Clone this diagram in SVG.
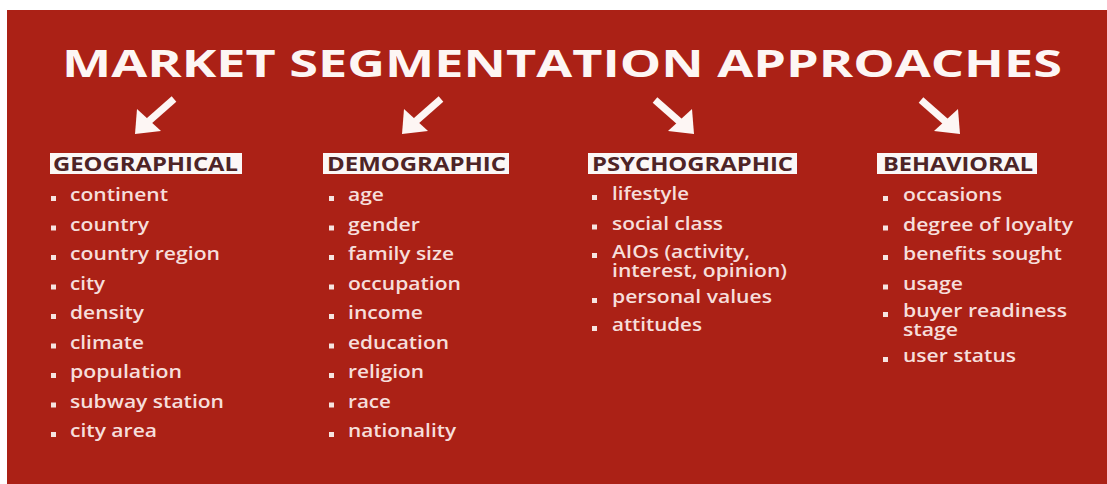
<svg xmlns="http://www.w3.org/2000/svg" width="1107" height="484" viewBox="0 0 1107 484">
  <style>
    .title { font-family: "Open Sans", "Liberation Sans", sans-serif; font-weight: 700; font-size: 38px; fill: #fdf6f4; }
    .head-box { fill: #fbf7f6; }
    .head { font-family: "Open Sans", "Liberation Sans", sans-serif; font-weight: 700; font-size: 20px; fill: #4e2426; }
    .item { font-family: "Open Sans", "Liberation Sans", sans-serif; font-weight: 600; font-size: 18px; fill: #f6dedb; }
    .bullet { fill: #f6e4e1; }
    .arrow-shaft { stroke: #fdf6f4; stroke-width: 7; stroke-linecap: butt; fill: none; }
    .arrow-head { fill: #fdf6f4; }
  </style>

  <!-- background panel -->
  <rect x="0" y="0" width="1107" height="484" fill="#ffffff"/>
  <rect x="7" y="10" width="1100" height="474" fill="#ab2116"/>

  <!-- title -->
  <g id="title">
    <text class="title" x="62" y="77" textLength="1000" lengthAdjust="spacingAndGlyphs">MARKET SEGMENTATION APPROACHES</text>
  </g>

  <!-- arrows from title to each approach -->
  <g id="connectors">
    <line class="arrow-shaft" x1="174" y1="99" x2="149" y2="121"/>
    <polygon class="arrow-head" points="135,134 137,109 161,131"/>
    <line class="arrow-shaft" x1="441" y1="99" x2="416" y2="121"/>
    <polygon class="arrow-head" points="402,134 404,109 428,131"/>
    <line class="arrow-shaft" x1="655" y1="100" x2="680" y2="122"/>
    <polygon class="arrow-head" points="694,134 692,109 668,131"/>
    <line class="arrow-shaft" x1="921" y1="100" x2="946" y2="122"/>
    <polygon class="arrow-head" points="960,134 958,109 934,131"/>
  </g>

  <!-- geographical -->
  <g id="geographical">
    <rect class="head-box" x="50" y="153" width="192" height="21"/>
    <text class="head" x="53" y="171" textLength="185" lengthAdjust="spacingAndGlyphs">GEOGRAPHICAL</text>
    <rect class="bullet" x="51" y="196" width="5" height="5"/>
    <text class="item" x="70" y="201" textLength="98" lengthAdjust="spacingAndGlyphs">continent</text>
    <rect class="bullet" x="51" y="225.5" width="5" height="5"/>
    <text class="item" x="70" y="230.5" textLength="79" lengthAdjust="spacingAndGlyphs">country</text>
    <rect class="bullet" x="51" y="255" width="5" height="5"/>
    <text class="item" x="70" y="260" textLength="150" lengthAdjust="spacingAndGlyphs">country region</text>
    <rect class="bullet" x="51" y="284.5" width="5" height="5"/>
    <text class="item" x="70" y="289.5" textLength="35" lengthAdjust="spacingAndGlyphs">city</text>
    <rect class="bullet" x="51" y="314" width="5" height="5"/>
    <text class="item" x="70" y="319" textLength="74" lengthAdjust="spacingAndGlyphs">density</text>
    <rect class="bullet" x="51" y="343.5" width="5" height="5"/>
    <text class="item" x="70" y="348.5" textLength="74" lengthAdjust="spacingAndGlyphs">climate</text>
    <rect class="bullet" x="51" y="373" width="5" height="5"/>
    <text class="item" x="70" y="378" textLength="112" lengthAdjust="spacingAndGlyphs">population</text>
    <rect class="bullet" x="51" y="402.5" width="5" height="5"/>
    <text class="item" x="70" y="407.5" textLength="154" lengthAdjust="spacingAndGlyphs">subway station</text>
    <rect class="bullet" x="51" y="432" width="5" height="5"/>
    <text class="item" x="70" y="437" textLength="87" lengthAdjust="spacingAndGlyphs">city area</text>
  </g>

  <!-- demographic -->
  <g id="demographic">
    <rect class="head-box" x="323" y="153" width="186" height="21"/>
    <text class="head" x="327" y="171" textLength="179" lengthAdjust="spacingAndGlyphs">DEMOGRAPHIC</text>
    <rect class="bullet" x="329" y="196" width="5" height="5"/>
    <text class="item" x="348" y="201" textLength="36" lengthAdjust="spacingAndGlyphs">age</text>
    <rect class="bullet" x="329" y="225.5" width="5" height="5"/>
    <text class="item" x="348" y="230.5" textLength="72" lengthAdjust="spacingAndGlyphs">gender</text>
    <rect class="bullet" x="329" y="255" width="5" height="5"/>
    <text class="item" x="348" y="260" textLength="106" lengthAdjust="spacingAndGlyphs">family size</text>
    <rect class="bullet" x="329" y="284.5" width="5" height="5"/>
    <text class="item" x="348" y="289.5" textLength="113" lengthAdjust="spacingAndGlyphs">occupation</text>
    <rect class="bullet" x="329" y="314" width="5" height="5"/>
    <text class="item" x="348" y="319" textLength="75" lengthAdjust="spacingAndGlyphs">income</text>
    <rect class="bullet" x="329" y="343.5" width="5" height="5"/>
    <text class="item" x="348" y="348.5" textLength="101" lengthAdjust="spacingAndGlyphs">education</text>
    <rect class="bullet" x="329" y="373" width="5" height="5"/>
    <text class="item" x="348" y="378" textLength="76" lengthAdjust="spacingAndGlyphs">religion</text>
    <rect class="bullet" x="329" y="402.5" width="5" height="5"/>
    <text class="item" x="348" y="407.5" textLength="43" lengthAdjust="spacingAndGlyphs">race</text>
    <rect class="bullet" x="329" y="432" width="5" height="5"/>
    <text class="item" x="348" y="437" textLength="108" lengthAdjust="spacingAndGlyphs">nationality</text>
  </g>

  <!-- psychographic -->
  <g id="psychographic">
    <rect class="head-box" x="588" y="153" width="209" height="21"/>
    <text class="head" x="592" y="171" textLength="201" lengthAdjust="spacingAndGlyphs">PSYCHOGRAPHIC</text>
    <rect class="bullet" x="592" y="195" width="5" height="5"/>
    <text class="item" x="612" y="200" textLength="77" lengthAdjust="spacingAndGlyphs">lifestyle</text>
    <rect class="bullet" x="592" y="224.5" width="5" height="5"/>
    <text class="item" x="612" y="229.5" textLength="111" lengthAdjust="spacingAndGlyphs">social class</text>
    <rect class="bullet" x="592" y="253" width="5" height="5"/>
    <text class="item"><tspan x="612" y="258" textLength="138" lengthAdjust="spacingAndGlyphs">AIOs (activity,</tspan><tspan x="612" y="277" textLength="175" lengthAdjust="spacingAndGlyphs">interest, opinion)</tspan></text>
    <rect class="bullet" x="592" y="298" width="5" height="5"/>
    <text class="item" x="612" y="303" textLength="160" lengthAdjust="spacingAndGlyphs">personal values</text>
    <rect class="bullet" x="592" y="326" width="5" height="5"/>
    <text class="item" x="612" y="331" textLength="90" lengthAdjust="spacingAndGlyphs">attitudes</text>
  </g>

  <!-- behavioral -->
  <g id="behavioral">
    <rect class="head-box" x="877" y="153" width="160" height="21"/>
    <text class="head" x="883" y="171" textLength="150" lengthAdjust="spacingAndGlyphs">BEHAVIORAL</text>
    <rect class="bullet" x="883" y="196" width="5" height="5"/>
    <text class="item" x="903" y="201" textLength="99" lengthAdjust="spacingAndGlyphs">occasions</text>
    <rect class="bullet" x="883" y="225.5" width="5" height="5"/>
    <text class="item" x="903" y="230.5" textLength="170" lengthAdjust="spacingAndGlyphs">degree of loyalty</text>
    <rect class="bullet" x="883" y="255" width="5" height="5"/>
    <text class="item" x="903" y="260" textLength="159" lengthAdjust="spacingAndGlyphs">benefits sought</text>
    <rect class="bullet" x="883" y="284.5" width="5" height="5"/>
    <text class="item" x="903" y="289.5" textLength="60" lengthAdjust="spacingAndGlyphs">usage</text>
    <rect class="bullet" x="883" y="312" width="5" height="5"/>
    <text class="item"><tspan x="903" y="317" textLength="164" lengthAdjust="spacingAndGlyphs">buyer readiness</tspan><tspan x="903" y="336" textLength="55" lengthAdjust="spacingAndGlyphs">stage</tspan></text>
    <rect class="bullet" x="883" y="357" width="5" height="5"/>
    <text class="item" x="903" y="362" textLength="113" lengthAdjust="spacingAndGlyphs">user status</text>
  </g>
</svg>
